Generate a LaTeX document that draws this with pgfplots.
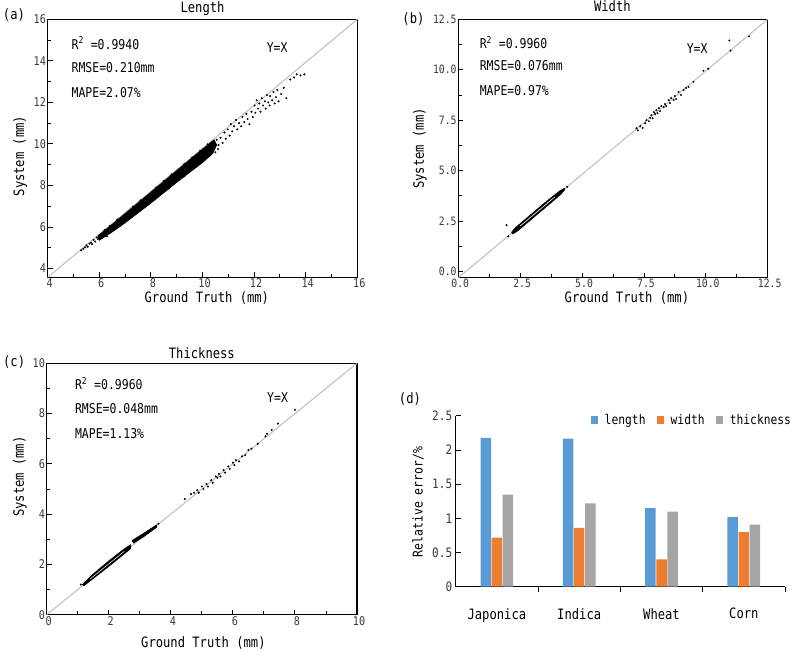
\documentclass[border=0pt]{standalone}
\usepackage{pgfplots}
\pgfplotsset{compat=1.18}
\usepackage{fontspec}
\setmainfont[FakeStretch=0.85]{DejaVu Sans Mono}

\definecolor{barblue}{HTML}{5B9BD5}
\definecolor{barorange}{HTML}{ED7D31}
\definecolor{bargray}{HTML}{A5A5A5}
\definecolor{ticktext}{HTML}{3A3A3A}
\definecolor{diag}{HTML}{BDBDBD}

\pgfplotsset{
  scatterpanel/.style={
    scale only axis, clip=false,
    axis line style={line width=1.4pt},
    tick align=inside, tick pos=left, minor tick num=1,
    major tick length=5pt, minor tick length=3.5pt,
    tick style={black, line width=0.9pt},
    tick label style={font=\fontsize{12}{14}\selectfont, text=ticktext,
      /pgf/number format/assume math mode=true},
    xticklabel style={inner sep=1.5pt, xshift=2pt},
    yticklabel style={inner sep=1.5pt},
    label style={font=\fontsize{14.3}{16}\selectfont},
  },
  dots/.style={only marks, mark=*, mark size=0.8pt, black},
  band/.style={fill=black, draw=black, line width=0.6pt},
  diagline/.style={diag, line width=1pt},
}
\newcommand{\stat}{\fontsize{13.5}{15}\selectfont}
\newcommand{\labfont}{\fontsize{14.3}{16}\selectfont}

\begin{document}
\begin{tikzpicture}
\useasboundingbox (0,0) rectangle (794pt,652pt);

% (a) Length
\begin{axis}[scatterpanel, at={(47.7pt,374.7pt)}, anchor=south west,
  width=309.6pt, height=258pt,
  xmin=4, xmax=16, ymin=3.58, ymax=16,
  xtick={4,6,...,16}, ytick={4,6,...,16},
  xlabel={Ground Truth (mm)}, ylabel={System (mm)},
  xlabel style={at={(axis description cs:0.514,-0.08)}, anchor=center},
  ylabel style={at={(axis description cs:-0.089,0.47)}, anchor=center}]
\addplot[diagline] coordinates {(4,3.58) (16,16)};
\addplot[band] coordinates {(5.95,5.58) (6.5,6.13) (7,6.65) (8,7.68) (9,8.72) (10,9.75) (10.45,10.2)
  (10.55,9.95) (10.4,9.55) (10,9.1) (9,8.15) (8,7.15) (7,6.2) (6.5,5.76) (6.0,5.36) (5.95,5.58)};
\addplot[dots] coordinates {
  (5.3,4.88) (5.38,4.95) (5.45,5.02) (5.5,5.12) (5.55,5.05) (5.62,5.2) (5.68,5.25) (5.72,5.18)
  (5.78,5.38) (5.84,5.3) (5.9,5.5) (5.95,5.42) (6.0,5.6) (6.05,5.52)
  (6.2,5.85) (6.4,6.05) (6.7,6.36) (7.3,6.98) (7.6,7.28) (8.2,7.9) (8.5,8.22) (8.8,8.53)
  (9.3,9.04) (9.6,9.35) (9.9,9.66) (10.2,9.98)
  (6.3,5.55) (6.8,6.05) (7.4,6.62) (8.1,7.3) (8.7,7.85) (9.3,8.45) (9.8,8.95) (10.3,9.45)
  (10.5,9.6) (10.6,9.75)
  (10.55,10.2) (10.62,9.95) (10.7,10.3) (10.78,10.05) (10.85,10.55) (10.9,10.25) (10.98,10.7)
  (11.05,10.4) (11.1,10.95) (11.15,10.6) (11.22,10.85) (11.3,11.15) (11.35,10.7) (11.42,11.0)
  (11.5,10.85) (11.55,11.3) (11.62,11.05) (11.7,11.45) (11.75,11.2) (11.82,10.95) (11.9,11.55)
  (11.95,11.3) (12.02,11.85) (12.05,11.5) (12.1,12.1) (12.15,11.7) (12.2,11.95) (12.25,11.55)
  (12.3,12.2) (12.35,11.85) (12.42,12.05) (12.45,11.7) (12.5,12.35) (12.55,12.0) (12.6,11.85)
  (12.62,12.3) (12.7,12.1) (12.75,12.5) (12.8,11.95) (12.85,12.25) (12.9,12.6) (12.95,12.05)
  (13.05,12.4) (13.15,12.7) (13.25,12.2) (13.4,13.1) (13.55,13.2) (13.65,13.35) (13.8,13.3)
  (13.95,13.35)};
\node[font=\labfont, anchor=base] at (rel axis cs:0.5,1.026) {Length};
\node[font=\labfont] at (rel axis cs:-0.109,1.017) {(a)};
\node[font=\stat, anchor=west] at (rel axis cs:0.066,0.908) {R\textsuperscript{2} =0.9940};
\node[font=\stat, anchor=west] at (rel axis cs:0.066,0.811) {RMSE=0.210mm};
\node[font=\stat, anchor=west] at (rel axis cs:0.066,0.714) {MAPE=2.07\%};
\node[font=\stat] at (rel axis cs:0.741,0.889) {Y=X};
\end{axis}

% (b) Width
\begin{axis}[scatterpanel, at={(458.3pt,374.3pt)}, anchor=south west,
  width=309.4pt, height=258.4pt,
  xmin=0, xmax=12.5, ymin=-0.3, ymax=12.5,
  xtick={0,2.5,...,12.5}, ytick={0,2.5,...,12.5},
  tick label style={font=\fontsize{11.5}{13}\selectfont},
  /pgf/number format/.cd, fixed, fixed zerofill, precision=1, /pgfplots/.cd,
  xlabel={Ground Truth (mm)}, ylabel={System (mm)},
  xlabel style={at={(axis description cs:0.545,-0.08)}, anchor=center},
  ylabel style={at={(axis description cs:-0.124,0.5)}, anchor=center}]
\addplot[diagline] coordinates {(0,-0.3) (12.5,12.5)};
\addplot[band] coordinates {(2.15,1.95) (2.3,2.17) (3.0,2.90) (3.6,3.52) (4.1,4.0) (4.3,4.14)
  (4.3,4.06) (4.15,3.84) (3.6,3.26) (3.0,2.64) (2.4,2.02) (2.2,1.86) (2.15,1.95)};
\addplot[white, line width=0.6pt] coordinates {(2.5,2.26) (3.9,3.7)};
\addplot[dots] coordinates {
  (1.95,2.3) (2.02,1.75) (4.4,4.2)
  (7.2,7.1) (7.25,7.0) (7.35,7.2) (7.45,7.12) (7.55,7.35) (7.6,7.5) (7.7,7.45) (7.75,7.62)
  (7.8,7.75) (7.85,7.6) (7.9,7.9) (7.95,7.8) (8.0,8.0) (8.05,7.85) (8.1,8.1) (8.15,7.95)
  (8.2,8.2) (8.3,8.15) (8.35,8.3) (8.4,8.2) (8.5,8.5) (8.55,8.35) (8.6,8.6) (8.7,8.5)
  (8.75,8.7) (8.8,8.55) (8.9,8.9) (9.0,8.75) (9.1,9.0) (9.2,9.1) (9.3,9.15) (9.5,9.4)
  (9.9,9.95) (10.1,10.05) (10.95,11.45) (11.0,10.95) (11.75,11.65)};
\node[font=\labfont, anchor=base] at (rel axis cs:0.498,1.029) {Width};
\node[font=\labfont] at (rel axis cs:-0.145,1.0) {(b)};
\node[font=\stat, anchor=west] at (rel axis cs:0.058,0.909) {R\textsuperscript{2} =0.9960};
\node[font=\stat, anchor=west] at (rel axis cs:0.058,0.819) {RMSE=0.076mm};
\node[font=\stat, anchor=west] at (rel axis cs:0.058,0.723) {MAPE=0.97\%};
\node[font=\stat] at (rel axis cs:0.772,0.885) {Y=X};
\end{axis}

% (c) Thickness
\begin{axis}[scatterpanel, at={(46.7pt,37.3pt)}, anchor=south west,
  width=310.3pt, height=251.4pt,
  xmin=0, xmax=10, ymin=0, ymax=10,
  xtick={0,2,...,10}, ytick={0,2,...,10},
  xlabel={Ground Truth (mm)}, ylabel={System (mm)},
  xlabel style={at={(axis description cs:0.505,-0.114)}, anchor=center},
  ylabel style={at={(axis description cs:-0.086,0.549)}, anchor=center}]
\addplot[diagline] coordinates {(0,0) (10,10)};
\addplot[band] coordinates {(1.15,1.2) (1.5,1.62) (2.0,2.14) (2.5,2.62) (2.7,2.78)
  (2.7,2.62) (2.5,2.42) (2.0,1.92) (1.5,1.44) (1.2,1.15) (1.15,1.2)};
\addplot[band] coordinates {(2.75,2.95) (3.1,3.22) (3.55,3.58) (3.55,3.48) (3.1,3.08) (2.8,2.85) (2.75,2.95)};
\addplot[white, line width=0.5pt] coordinates {(1.4,1.42) (2.5,2.52)};
\addplot[dots] coordinates {
  (1.1,1.2) (1.25,1.3) (3.6,3.62)
  (4.45,4.6) (4.65,4.8) (4.75,4.85) (4.85,4.95) (4.9,4.85) (5.0,5.1) (5.05,5.0) (5.15,5.2)
  (5.2,5.1) (5.3,5.35) (5.35,5.25) (5.45,5.5) (5.5,5.45) (5.55,5.6) (5.6,5.5) (5.7,5.75)
  (5.75,5.65) (5.85,5.9) (5.9,5.8) (6.0,6.05) (6.05,5.95) (6.1,6.15) (6.2,6.1) (6.3,6.3)
  (6.4,6.35) (6.5,6.55) (6.6,6.6) (6.8,6.8) (7.05,7.1) (7.1,7.2) (7.25,7.35) (7.45,7.6)
  (8.0,8.15)};
\node[font=\labfont, anchor=base] at (rel axis cs:0.5,1.02) {Thickness};
\node[font=\labfont] at (rel axis cs:-0.105,1.004) {(c)};
\node[font=\stat, anchor=west] at (rel axis cs:0.08,0.920) {R\textsuperscript{2} =0.9960};
\node[font=\stat, anchor=west] at (rel axis cs:0.08,0.818) {RMSE=0.048mm};
\node[font=\stat, anchor=west] at (rel axis cs:0.08,0.722) {MAPE=1.13\%};
\node[font=\stat] at (rel axis cs:0.744,0.863) {Y=X};
\end{axis}

% (d) Relative error
\begin{axis}[scale only axis, clip=false, at={(455.7pt,65.3pt)}, anchor=south west,
  width=329.3pt, height=170.7pt,
  xmin=-0.5, xmax=3.5, ymin=0, ymax=2.5,
  axis x line=bottom, axis y line=left,
  axis line style={line width=1.2pt, -},
  tick align=inside, tick style={black, line width=1pt}, major tick length=5pt,
  ybar=0.6pt, bar width=10.5pt,
  xtick={0.5,1.5,2.5,3.5}, xticklabels={},
  extra x ticks={0,1,2,3}, extra x tick labels={Japonica,Indica,Wheat,Corn},
  extra x tick style={major tick length=0pt,
    tick label style={font=\labfont, text=black, yshift=-18pt}},
  ytick={0,0.5,...,2.5},
  yticklabel style={font=\fontsize{13}{15}\selectfont, text=ticktext,
    /pgf/number format/assume math mode=true},
  ylabel={Relative error/\%},
  ylabel style={font=\fontsize{13.5}{15}\selectfont, at={(axis description cs:-0.114,0.496)}, anchor=center},
  legend style={at={(0.40,0.977)}, anchor=west, draw=none, fill=none,
    legend columns=-1, font=\fontsize{13.3}{15}\selectfont,
    /tikz/every odd column/.append style={column sep=4.5pt},
    /tikz/every even column/.append style={column sep=9pt}},
  legend image code/.code={\fill[#1] (0pt,-3.8pt) rectangle (7.6pt,3.8pt);}]
\addplot[fill=barblue, draw=none] coordinates {(0,2.18) (1,2.17) (2,1.15) (3,1.02)};
\addplot[fill=barorange, draw=none] coordinates {(0,0.72) (1,0.86) (2,0.40) (3,0.80)};
\addplot[fill=bargray, draw=none] coordinates {(0,1.35) (1,1.22) (2,1.10) (3,0.91)};
\legend{length,width,thickness}
\node[font=\labfont] at (rel axis cs:-0.139,1.10) {(d)};
\end{axis}
\end{tikzpicture}
\end{document}
